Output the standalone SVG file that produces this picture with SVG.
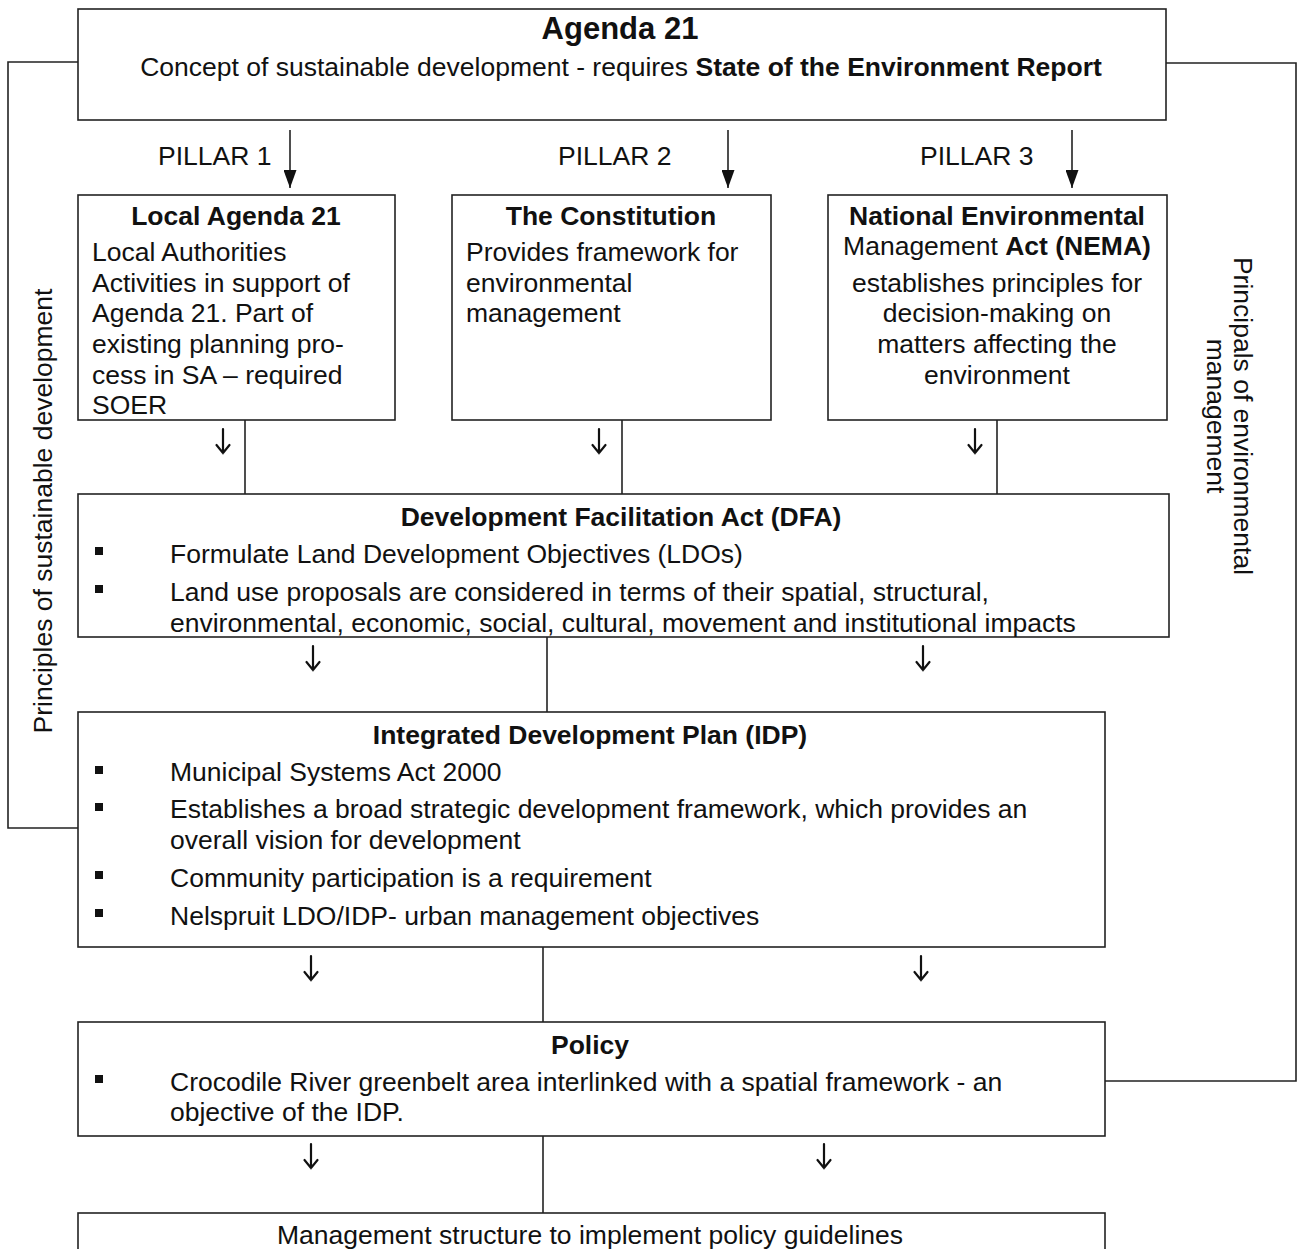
<svg xmlns="http://www.w3.org/2000/svg" xmlns:xlink="http://www.w3.org/1999/xlink" width="1303" height="1249" viewBox="0 0 1303 1249">
<style>
.box{fill:#fff;stroke:#222;stroke-width:1.6}
.ln{fill:none;stroke:#222;stroke-width:1.6}
.sa{fill:none;stroke:#111;stroke-width:2.2;stroke-linecap:round;stroke-linejoin:miter}
text{font-family:"Liberation Sans",Arial,"DejaVu Sans",sans-serif;font-size:26.5px;fill:#111}
.b{font-weight:bold}
.c{text-anchor:middle}
.bul{fill:#111}
</style>
<defs>
<marker id="ah" markerWidth="18" markerHeight="13" refX="18" refY="6.5" orient="auto" markerUnits="userSpaceOnUse" viewBox="0 0 18 13">
<path d="M0,0 L18,6.5 L0,13 Z" fill="#111"/>
</marker>
<g id="darr">
<path class="sa" d="M0,-12 V12 M-6.5,4 L0,12 L6.5,4"/>
</g>
</defs>
<rect width="1303" height="1249" fill="#fff"/>

<g id="connectors">
<path class="ln" d="M78,62 H8 V828 H78"/>
<path class="ln" d="M1166,63 H1296 V1081 H1105"/>
<line class="ln" x1="290" y1="130" x2="290" y2="188" marker-end="url(#ah)"/>
<line class="ln" x1="728" y1="130" x2="728" y2="188" marker-end="url(#ah)"/>
<line class="ln" x1="1072" y1="130" x2="1072" y2="188" marker-end="url(#ah)"/>
<line class="ln" x1="245" y1="420" x2="245" y2="494"/>
<line class="ln" x1="622" y1="420" x2="622" y2="494"/>
<line class="ln" x1="997" y1="420" x2="997" y2="494"/>
<line class="ln" x1="547" y1="637" x2="547" y2="712"/>
<line class="ln" x1="543" y1="947" x2="543" y2="1022"/>
<line class="ln" x1="543" y1="1136" x2="543" y2="1213"/>
<use xlink:href="#darr" href="#darr" x="223" y="441"/>
<use xlink:href="#darr" href="#darr" x="599" y="441"/>
<use xlink:href="#darr" href="#darr" x="975" y="441"/>
<use xlink:href="#darr" href="#darr" x="313" y="658"/>
<use xlink:href="#darr" href="#darr" x="923" y="658"/>
<use xlink:href="#darr" href="#darr" x="311" y="968"/>
<use xlink:href="#darr" href="#darr" x="921" y="968"/>
<use xlink:href="#darr" href="#darr" x="311" y="1156"/>
<use xlink:href="#darr" href="#darr" x="824" y="1156"/>
<text x="158" y="165">PILLAR 1</text>
<text x="558" y="165">PILLAR 2</text>
<text x="920" y="165">PILLAR 3</text>
<text transform="translate(52,511) rotate(-90)" class="c">Principles of sustainable development</text>
<text transform="translate(1234,416) rotate(90)" class="c">Principals of environmental</text>
<text transform="translate(1207,416) rotate(90)" class="c">management</text>
</g>

<g id="agenda21">
<rect class="box" x="78" y="9" width="1088" height="111"/>
<text class="b c" x="620" y="39" style="font-size:31px">Agenda 21</text>
<text class="c" x="621" y="76">Concept of sustainable development - requires <tspan class="b">State of the Environment Report</tspan></text>
</g>

<g id="local-agenda">
<rect class="box" x="78" y="195" width="317" height="225"/>
<text class="b c" x="236" y="225">Local Agenda 21</text>
<text x="92" y="261">Local Authorities</text>
<text x="92" y="292">Activities in support of</text>
<text x="92" y="322">Agenda 21. Part of</text>
<text x="92" y="353">existing planning pro-</text>
<text x="92" y="384">cess in SA – required</text>
<text x="92" y="414">SOER</text>
</g>

<g id="constitution">
<rect class="box" x="452" y="195" width="319" height="225"/>
<text class="b c" x="611" y="225">The Constitution</text>
<text x="466" y="261">Provides framework for</text>
<text x="466" y="292">environmental</text>
<text x="466" y="322">management</text>
</g>

<g id="nema">
<rect class="box" x="828" y="195" width="339" height="225"/>
<text class="b c" x="997" y="225">National Environmental</text>
<text class="c" x="997" y="255">Management <tspan class="b">Act (NEMA)</tspan></text>
<text class="c" x="997" y="292">establishes principles for</text>
<text class="c" x="997" y="322">decision-making on</text>
<text class="c" x="997" y="353">matters affecting the</text>
<text class="c" x="997" y="384">environment</text>
</g>

<g id="dfa">
<rect class="box" x="78" y="494" width="1091" height="143"/>
<text class="b c" x="621" y="526">Development Facilitation Act (DFA)</text>
<rect class="bul" x="95" y="547" width="8" height="8"/>
<text x="170" y="563">Formulate Land Development Objectives (LDOs)</text>
<rect class="bul" x="95" y="585" width="8" height="8"/>
<text x="170" y="601">Land use proposals are considered in terms of their spatial, structural,</text>
<text x="170" y="632">environmental, economic, social, cultural, movement and institutional impacts</text>
</g>

<g id="idp">
<rect class="box" x="78" y="712" width="1027" height="235"/>
<text class="b c" x="590" y="744">Integrated Development Plan (IDP)</text>
<rect class="bul" x="95" y="766" width="8" height="8"/>
<text x="170" y="781">Municipal Systems Act 2000</text>
<rect class="bul" x="95" y="803" width="8" height="8"/>
<text x="170" y="818">Establishes a broad strategic development framework, which provides an</text>
<text x="170" y="849">overall vision for development</text>
<rect class="bul" x="95" y="871" width="8" height="8"/>
<text x="170" y="887">Community participation is a requirement</text>
<rect class="bul" x="95" y="909" width="8" height="8"/>
<text x="170" y="925">Nelspruit LDO/IDP- urban management objectives</text>
</g>

<g id="policy">
<rect class="box" x="78" y="1022" width="1027" height="114"/>
<text class="b c" x="590" y="1054">Policy</text>
<rect class="bul" x="95" y="1075" width="8" height="8"/>
<text x="170" y="1091">Crocodile River greenbelt area interlinked with a spatial framework - an</text>
<text x="170" y="1121">objective of the IDP.</text>
</g>

<g id="management">
<rect class="box" x="78" y="1213" width="1027" height="60"/>
<text class="c" x="590" y="1244">Management structure to implement policy guidelines</text>
</g>
</svg>
